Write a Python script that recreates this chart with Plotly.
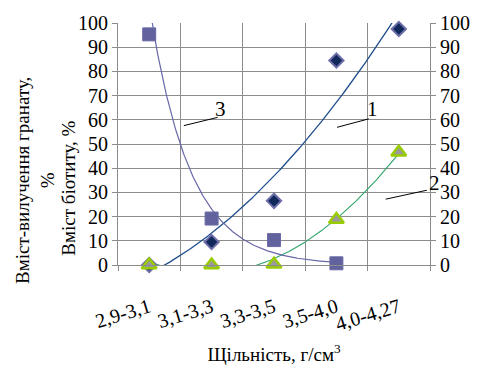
import numpy as np
import plotly.graph_objects as go

categories = ["2,9-3,1", "3,1-3,3", "3,3-3,5", "3,5-4,0", "4,0-4,27"]
garnet = [0, 9.5, 26.5, 84.5, 97.5]          # series 1 (diamonds)
biotite_b = [0, 0, 0.3, 18.8, 46.6]          # series 2 (triangles)
biotite_a = [95.3, 19.2, 10.3, 0.7]          # series 3 (squares)

FAM = "Liberation Serif, DejaVu Serif, serif"
CYR = "Liberation Serif, DejaVu Serif, serif"
GRID = "#8c8c8c"


def F(size, fam=FAM):
    return dict(family=fam, size=size, color="black")


xi = np.arange(1, len(categories) + 1)

# trendlines fitted to the data
c1 = np.polyfit(xi, garnet, 2)
x1 = np.linspace(1, 5, 300)
y1 = np.polyval(c1, x1)
c2 = np.polyfit(xi, biotite_b, 2)
y2 = np.polyval(c2, x1)
xa = np.arange(1, len(biotite_a) + 1)
k, lnA = np.polyfit(xa, np.log(biotite_a), 1)
x3 = np.linspace(1, len(biotite_a), 300)
y3 = np.exp(lnA + k * x3)

fig = go.Figure()
fig.add_trace(go.Scatter(x=x1, y=y1, mode="lines", line=dict(color="#1f4e8c", width=1.3), showlegend=False))
fig.add_trace(go.Scatter(x=x1, y=y2, mode="lines", line=dict(color="#2ea36b", width=1.1), showlegend=False))
fig.add_trace(go.Scatter(x=x3, y=y3, mode="lines", line=dict(color="#6868a8", width=1.2), showlegend=False))

fig.add_trace(go.Scatter(x=xi, y=garnet, mode="markers", cliponaxis=False, showlegend=False,
                         marker=dict(symbol="diamond", size=11, color="#10285a",
                                     line=dict(color="#6e6eaa", width=2))))
fig.add_trace(go.Scatter(x=xa, y=biotite_a, mode="markers", cliponaxis=False, showlegend=False,
                         marker=dict(symbol="square", size=13, color="#62629e",
                                     line=dict(color="#6a6aa6", width=1))))
fig.add_trace(go.Scatter(x=xi, y=biotite_b, mode="markers", cliponaxis=False, showlegend=False,
                         marker=dict(symbol="triangle-up", size=13, color="#9a9a9a",
                                     line=dict(color="#99cc00", width=2.5))))
# dummy trace to activate right axis
fig.add_trace(go.Scatter(x=[None], y=[None], yaxis="y2", showlegend=False))

fig.update_layout(
    width=482, height=374,
    margin=dict(l=118, r=50, t=22, b=109),
    paper_bgcolor="white", plot_bgcolor="white",
    font=F(20),
    xaxis=dict(range=[0.5, 5.5], tickmode="array", tickvals=list(xi), ticktext=categories,
               tickangle=-17, showgrid=False, zeroline=False, ticks="", tickfont=F(20),
               showline=True, linecolor=GRID, linewidth=1,
               ticklabelstandoff=22,
               minor=dict(tick0=0.5, dtick=1, showgrid=True, gridcolor=GRID, gridwidth=1,
                          ticks="outside", ticklen=5, tickcolor=GRID),
               title=dict(text="Щільність, г/см<sup>3</sup>", font=F(19, CYR), standoff=13)),
    yaxis=dict(range=[0, 100], dtick=10, showgrid=True, gridcolor=GRID, gridwidth=1,
               zeroline=False, showline=True, linecolor=GRID, ticks="outside", ticklen=5,
               tickcolor=GRID, tickfont=F(20)),
    yaxis2=dict(range=[0, 100], dtick=10, overlaying="y", side="right", showgrid=False,
                zeroline=False, showline=True, linecolor=GRID, ticks="outside", ticklen=5,
                tickcolor=GRID, tickfont=F(20)),
)

# axis titles on the left
fig.add_annotation(text="Вміст-вилучення гранату,<br>%", xref="paper", yref="paper",
                   x=-0.264, y=0.35, textangle=-90, showarrow=False, font=F(19, CYR),
                   xanchor="center", yanchor="middle")
fig.add_annotation(text="Вміст біотиту, %", xref="paper", yref="paper",
                   x=-0.159, y=0.317, textangle=-90, showarrow=False, font=F(19, CYR),
                   xanchor="center", yanchor="middle")

# curve labels with leader lines
labels = [("3", 2.15, 64.6, 1.555, 57.6, 2.097, 61.0),
          ("1", 4.58, 64.6, 4.01, 56.9, 4.52, 60.4),
          ("2", 5.45, 33.9, 4.79, 27.2, 5.45, 30.9)]
for t, tx, ty, lx0, ly0, lx1, ly1 in labels:
    fig.add_annotation(text=t, x=(tx - 0.5) / 5.0, y=ty / 100.0, xref="paper", yref="paper",
                       showarrow=False, font=F(21), xanchor="left" if t == "2" else "center")
    fig.add_shape(type="line", x0=lx0, y0=ly0, x1=lx1, y1=ly1, xref="x", yref="y",
                  line=dict(color="black", width=1))

fig.write_html("out.html")
